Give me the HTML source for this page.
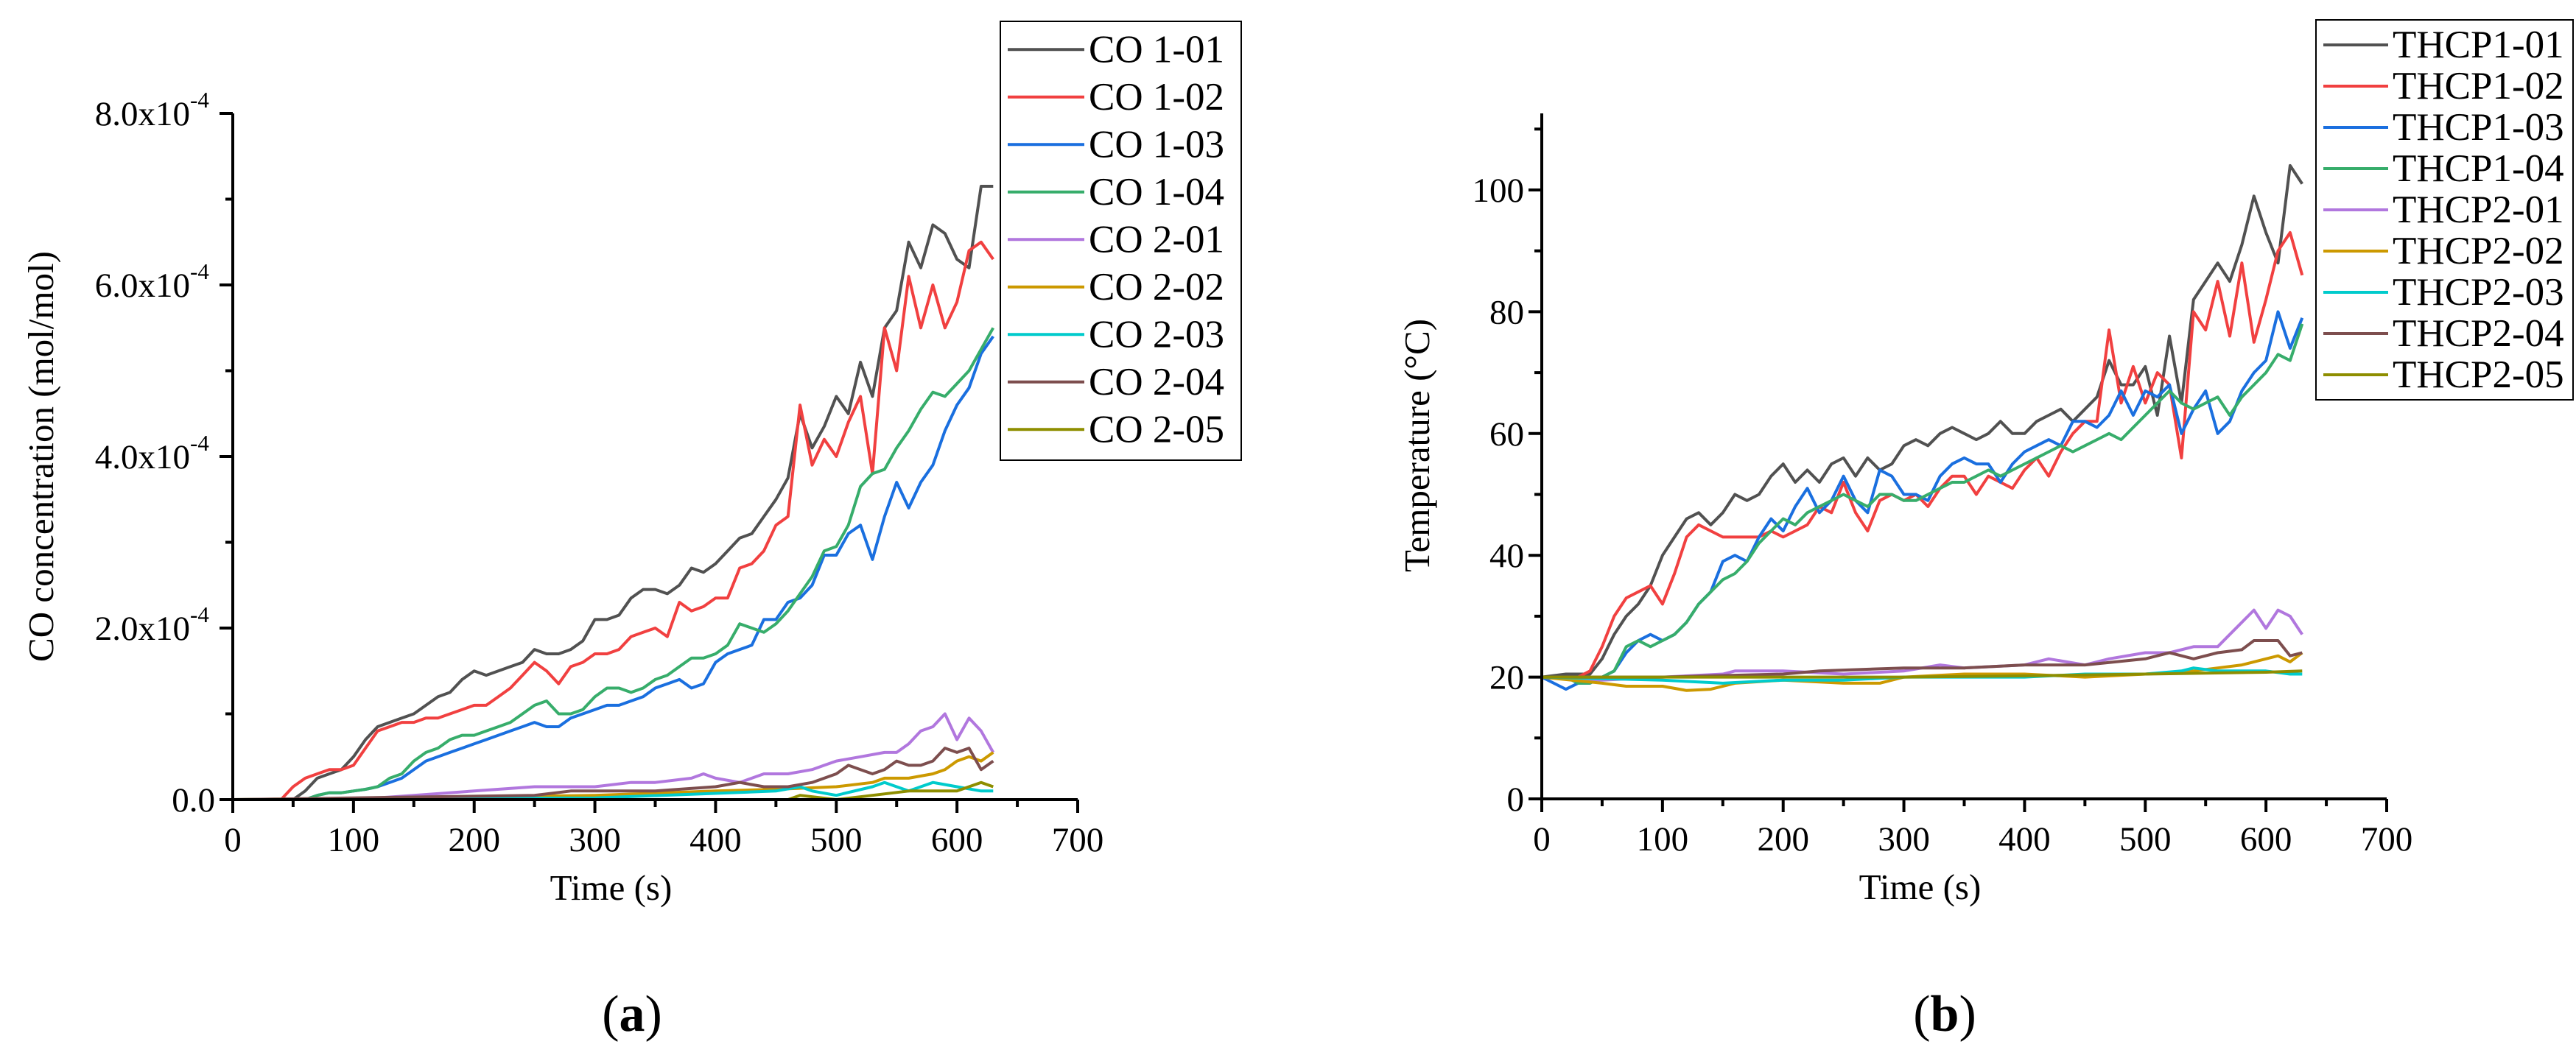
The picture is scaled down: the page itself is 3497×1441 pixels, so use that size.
<!DOCTYPE html>
<html><head><meta charset="utf-8">
<style>
html,body{margin:0;padding:0;background:#fff;}
svg{display:block;font-family:"Liberation Serif",serif;}
</style></head>
<body>
<svg id="fig" width="3497" height="1441" viewBox="0 0 3497 1441" xmlns="http://www.w3.org/2000/svg">
<g id="chartA"></g>
<g id="chartB"></g>
<text x="858" y="1400" font-size="70" text-anchor="middle">(<tspan font-weight="bold">a</tspan>)</text>
<text x="2640" y="1400" font-size="70" text-anchor="middle">(<tspan font-weight="bold">b</tspan>)</text>
</svg>
<script>
// ---------- Chart A data (CO concentration, x1e-4 mol/mol) ----------
const aNames = ["CO 1-01","CO 1-02","CO 1-03","CO 1-04","CO 2-01","CO 2-02","CO 2-03","CO 2-04","CO 2-05"];
const aT1 = [0,10,20,30,40,50,60,70,80,90,100,110,120,130,140,150,160,170,180,190,200,210,220,230,240,250,260,270,280,290,300,310,320,330,340,350,360,370,380,390,400,410,420,430,440,450,460,470,480,490,500,510,520,530,540,550,560,570,580,590,600,610,620,630];
const aCO101 = [0,0,0,0,0,0,0.1,0.25,0.3,0.35,0.5,0.7,0.85,0.9,0.95,1.0,1.1,1.2,1.25,1.4,1.5,1.45,1.5,1.55,1.6,1.75,1.7,1.7,1.75,1.85,2.1,2.1,2.15,2.35,2.45,2.45,2.4,2.5,2.7,2.65,2.75,2.9,3.05,3.1,3.3,3.5,3.75,4.5,4.1,4.35,4.7,4.5,5.1,4.7,5.5,5.7,6.5,6.2,6.7,6.6,6.3,6.2,7.15,7.15];
const aCO102 = [0,0,0,0,0,0.15,0.25,0.3,0.35,0.35,0.4,0.6,0.8,0.85,0.9,0.9,0.95,0.95,1.0,1.05,1.1,1.1,1.2,1.3,1.45,1.6,1.5,1.35,1.55,1.6,1.7,1.7,1.75,1.9,1.95,2.0,1.9,2.3,2.2,2.25,2.35,2.35,2.7,2.75,2.9,3.2,3.3,4.6,3.9,4.2,4.0,4.4,4.7,3.8,5.5,5.0,6.1,5.5,6.0,5.5,5.8,6.4,6.5,6.3];
const aCO103 = [0,0,0,0,0,0,0,0.05,0.08,0.08,0.1,0.12,0.15,0.2,0.25,0.35,0.45,0.5,0.55,0.6,0.65,0.7,0.75,0.8,0.85,0.9,0.85,0.85,0.95,1.0,1.05,1.1,1.1,1.15,1.2,1.3,1.35,1.4,1.3,1.35,1.6,1.7,1.75,1.8,2.1,2.1,2.3,2.35,2.5,2.85,2.85,3.1,3.2,2.8,3.3,3.7,3.4,3.7,3.9,4.3,4.6,4.8,5.2,5.4];
const aCO104 = [0,0,0,0,0,0,0,0.05,0.08,0.08,0.1,0.12,0.15,0.25,0.3,0.45,0.55,0.6,0.7,0.75,0.75,0.8,0.85,0.9,1.0,1.1,1.15,1.0,1.0,1.05,1.2,1.3,1.3,1.25,1.3,1.4,1.45,1.55,1.65,1.65,1.7,1.8,2.05,2.0,1.95,2.05,2.2,2.4,2.6,2.9,2.95,3.2,3.65,3.8,3.85,4.1,4.3,4.55,4.75,4.7,4.85,5.0,5.25,5.5];
const aT2 = [0,100,150,200,250,300,330,350,380,390,400,420,440,460,480,490,500,520,540,550,560,570,580,590,600,610,620,630];
const aCO201 = [0,0,0.05,0.1,0.15,0.15,0.2,0.2,0.25,0.3,0.25,0.2,0.3,0.3,0.35,0.4,0.45,0.5,0.55,0.55,0.65,0.8,0.85,1.0,0.7,0.95,0.8,0.55];
const aT3 = [0,200,300,400,450,500,530,540,560,580,590,600,610,620,630];
const aCO202 = [0,0.03,0.05,0.1,0.12,0.15,0.2,0.25,0.25,0.3,0.35,0.45,0.5,0.45,0.55];
const aT4 = [0,300,450,470,480,500,530,540,560,570,580,600,620,630];
const aCO203 = [0,0.02,0.1,0.15,0.1,0.05,0.15,0.2,0.1,0.15,0.2,0.15,0.1,0.1];
const aT5 = [0,250,280,300,350,400,420,440,460,480,500,510,520,530,540,550,560,570,580,590,600,610,620,630];
const aCO204 = [0,0.05,0.1,0.1,0.1,0.15,0.2,0.15,0.15,0.2,0.3,0.4,0.35,0.3,0.35,0.45,0.4,0.4,0.45,0.6,0.55,0.6,0.35,0.45];
const aT6 = [0,460,470,500,530,560,580,600,620,630];
const aCO205 = [0,0,0.05,0,0.05,0.1,0.1,0.1,0.2,0.15];
const aTimes = [aT1,aT1,aT1,aT1,aT2,aT3,aT4,aT5,aT6];
const aValues = [aCO101,aCO102,aCO103,aCO104,aCO201,aCO202,aCO203,aCO204,aCO205];
const aYTicks = [0,2,4,6,8];
const aYTickLabels = ["0.0","2.0x10","4.0x10","6.0x10","8.0x10"];
const xTicks = [0,100,200,300,400,500,600,700];

// ---------- Chart B data (Temperature, °C) ----------
const bNames = ["THCP1-01","THCP1-02","THCP1-03","THCP1-04","THCP2-01","THCP2-02","THCP2-03","THCP2-04","THCP2-05"];
const bTA = [0,20,30,40,50,60,70,80,90,100,110,120,130,140,150,160,170,180,190,200,210,220,230,240,250,260,270,280,290,300,310,320,330,340,350,360,370,380,390,400,410,420,430,440,450,460,470,480,490,500,510,520,530,540,550,560,570,580,590,600,610,620,630];
const bT101 = [20,20.5,20.5,20.5,23,27,30,32,35,40,43,46,47,45,47,50,49,50,53,55,52,54,52,55,56,53,56,54,55,58,59,58,60,61,60,59,60,62,60,60,62,63,64,62,64,66,72,68,68,71,63,76,65,82,85,88,85,91,99,93,88,104,101];
const bT102 = [20,20,20,21,25,30,33,34,35,32,37,43,45,44,43,43,43,43,44,43,44,45,48,47,52,47,44,49,50,49,50,48,51,53,53,50,53,52,51,54,56,53,57,60,62,62,77,65,71,65,70,68,56,80,77,85,76,88,75,82,90,93,86];
const bT103 = [20,18,19,19,20,21,24,26,27,26,27,29,32,34,39,40,39,43,46,44,48,51,47,49,53,49,47,54,53,50,50,49,53,55,56,55,55,52,55,57,58,59,58,62,62,61,63,67,63,67,66,68,60,64,67,60,62,67,70,72,80,74,79];
const bT104 = [20,20,19,19,20,21,25,26,25,26,27,29,32,34,36,37,39,42,44,46,45,47,48,49,50,49,48,50,50,49,49,50,51,52,52,53,54,53,54,55,56,57,58,57,58,59,60,59,61,63,65,67,65,64,65,66,63,66,68,70,73,72,78];
const bTB = [0,50,100,150,160,200,250,300,330,350,400,420,450,470,500,520,540,560,570,580,590,600,610,620,630];
const bT201 = [20,19.5,20,20.5,21,21,20.5,21,22,21.5,22,23,22,23,24,24,25,25,27,29,31,28,31,30,27];
const bTC = [0,50,70,100,120,140,160,200,250,280,300,350,400,450,500,540,560,580,600,610,620,630];
const bT202 = [20,19,18.5,18.5,17.8,18,19,19.5,19,19,20,20.5,20.5,20,20.5,21,21.5,22,23,23.5,22.5,24];
const bTD = [0,100,150,200,250,300,350,400,450,500,530,540,560,600,620,630];
const bT203 = [20,19.5,19,19.5,19.5,20,20,20,20.5,20.5,21,21.5,21,21,20.5,20.5];
const bTE = [0,100,200,230,300,350,400,430,450,500,520,540,560,580,590,610,620,630];
const bT204 = [20,20,20.5,21,21.5,21.5,22,22,22,23,24,23,24,24.5,26,26,23.5,24];
const bTF = [0,200,300,400,500,600,630];
const bT205 = [20,20,20,20.2,20.5,20.8,21];
const bTimes = [bTA,bTA,bTA,bTA,bTB,bTC,bTD,bTE,bTF];
const bValues = [bT101,bT102,bT103,bT104,bT201,bT202,bT203,bT204,bT205];
const bYTicks = [0,20,40,60,80,100];
const bYTickLabels = ["0","20","40","60","80","100"];

const colors = ["#515151","#F14040","#1A6FDF","#37AD6B","#B177DE","#CC9900","#00CBCC","#7D4E4E","#8E8E00"];
const NS = "http://www.w3.org/2000/svg";
function mk(parent, tag, attrs){
  const e = document.createElementNS(NS, tag);
  for (const k in attrs) e.setAttribute(k, attrs[k]);
  parent.appendChild(e); return e;
}

function drawChart(g, cfg){
  const xS = v => cfg.x0 + (v/700)*(cfg.x1-cfg.x0);
  const yS = v => cfg.y0 - (v/cfg.yMaxRef)*(cfg.y0-cfg.yRefPx);
  cfg.times.forEach((ts, i) => {
    const d = ts.map((t,j) => (j?"L":"M") + xS(t).toFixed(1) + "," + yS(cfg.values[i][j]).toFixed(1)).join("");
    const p = mk(g, "path", {d:d, fill:"none", stroke:colors[i], "stroke-width":4, "stroke-linejoin":"round"});
    
    
  });
  const ax = mk(g, "path", {d:`M${cfg.x0},${cfg.yTopPx} L${cfg.x0},${cfg.y0} L${cfg.x1},${cfg.y0}`, fill:"none", stroke:"#000", "stroke-width":4});
  
  
  for (let v = 0; v <= 700; v += 50) {
    const major = v % 100 === 0;
    const t = mk(g, "line", {x1:xS(v), x2:xS(v), y1:cfg.y0, y2:cfg.y0 + (major?18:10), stroke:"#000", "stroke-width":4});
    
    
  }
  xTicks.forEach(v => {
    const tx = mk(g, "text", {x:xS(v), y:cfg.y0+70, "font-size":47, "text-anchor":"middle"});
    tx.textContent = String(v);
    
    
  });
  const step = cfg.yTicks[1]-cfg.yTicks[0];
  for (let v = 0; yS(v) >= cfg.yTopPx - 1; v += step/2) {
    const major = Math.abs((v/step) - Math.round(v/step)) < 1e-6;
    const t = mk(g, "line", {x1:cfg.x0-(major?18:10), x2:cfg.x0, y1:yS(v), y2:yS(v), stroke:"#000", "stroke-width":4});
    
    
  }
  cfg.yTicks.forEach((v, i) => {
    const tx = mk(g, "text", {x:cfg.x0-24 - (cfg.sup && i>0 ? 34 : 0), y:yS(v)+16, "font-size":47, "text-anchor":"end"});
    tx.textContent = cfg.yLabels[i];
    
    
    if (cfg.sup && i>0) {
      const s = mk(g, "text", {x:cfg.x0-58, y:yS(v)-8, "font-size":31, "text-anchor":"start"});
      s.textContent = "-4";
      
      
    }
  });
  const xt = mk(g, "text", {x:(cfg.x0+cfg.x1)/2 - 60, y:cfg.y0+136, "font-size":49, "text-anchor":"middle"});
  xt.textContent = "Time (s)";
  
  
  const yt = mk(g, "text", {x:0, y:0, "font-size":49, "text-anchor":"middle", transform:`translate(${cfg.yTitleX},${cfg.yTitleY}) rotate(-90)`});
  yt.textContent = cfg.yTitle;
  
  
  const lb = mk(g, "rect", {x:cfg.lx, y:cfg.ly, width:cfg.lw, height:cfg.lh, fill:"#fff", stroke:"#000", "stroke-width":2});
  
  
  cfg.names.forEach((n, i) => {
    const cy = cfg.ly + cfg.lstep*(i+0.5) + 6;
    const ln = mk(g, "line", {x1:cfg.lx+10, x2:cfg.lx+10+cfg.sw, y1:cy, y2:cy, stroke:colors[i], "stroke-width":4});
    
    
    const tx = mk(g, "text", {x:cfg.lx+16+cfg.sw, y:cy+17, "font-size":53});
    tx.textContent = n;
    
    
  });
}

drawChart(document.getElementById("chartA"), {
  x0:316, x1:1463, y0:1086, yRefPx:154, yMaxRef:8, yTopPx:154,
  times:aTimes, values:aValues, yTicks:aYTicks, yLabels:aYTickLabels, sup:true,
  yTitle:"CO concentration (mol/mol)", yTitleX:72, yTitleY:620, names:aNames,
  lx:1358, ly:29, lw:327, lh:596, lstep:64.5, sw:104
});
drawChart(document.getElementById("chartB"), {
  x0:2093, x1:3240, y0:1085, yRefPx:258, yMaxRef:100, yTopPx:154,
  times:bTimes, values:bValues, yTicks:bYTicks, yLabels:bYTickLabels, sup:false,
  yTitle:"Temperature (°C)", yTitleX:1940, yTitleY:605, names:bNames,
  lx:3144, ly:27, lw:349, lh:516, lstep:56, sw:88
});
</script>
</body></html>
